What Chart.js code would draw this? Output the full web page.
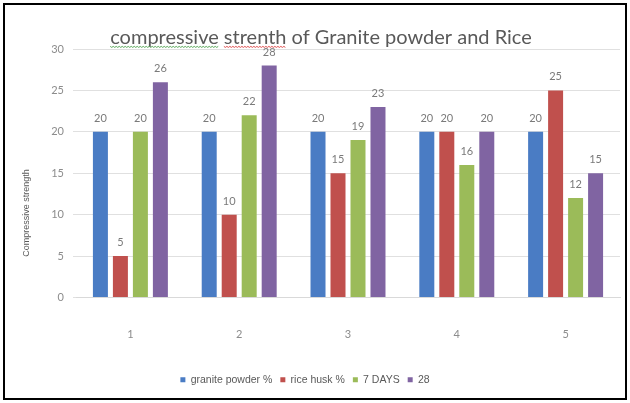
<!DOCTYPE html>
<html>
<head>
<meta charset="utf-8">
<script src="https://cdn.jsdelivr.net/npm/chart.js@4/dist/chart.umd.min.js"></script>
<style>
  html, body { margin: 0; padding: 0; background: #ffffff; }
  canvas { display: block; }
</style>
</head>
<body>
<canvas id="c" width="630" height="403"></canvas>
<script>
// Categories along the x axis
const categories = ['1', '2', '3', '4', '5'];

// Series values
const granitePowder = [20, 20, 20, 20, 20];
const riceHusk = [5, 10, 15, 20, 25];
const sevenDays = [20, 22, 19, 16, 12];
const days28 = [26, 28, 23, 20, 15];

// Series names and y-axis ticks
const seriesNames = ['granite powder %', 'rice husk %', '7 DAYS', '28'];
const yTicks = [0, 5, 10, 15, 20, 25, 30];

const titleText = 'compressive strenth of Granite powder and Rice';
const yAxisTitle = 'Compressive strength';
const colors = ['#4a7cc4', '#c0504d', '#9bbb59', '#8064a2'];

// White page with a black frame around everything
const framePlugin = {
  id: 'frame',
  beforeDraw(chart) {
    const ctx = chart.ctx;
    ctx.save();
    ctx.fillStyle = '#ffffff';
    ctx.fillRect(0, 0, chart.width, chart.height);
    ctx.strokeStyle = '#000000';
    ctx.lineWidth = 2;
    ctx.strokeRect(4, 4, chart.width - 8, chart.height - 8);
    ctx.restore();
  }
};

// Value written above every bar
const valueLabels = {
  id: 'valueLabels',
  afterDatasetsDraw(chart) {
    const ctx = chart.ctx;
    ctx.save();
    ctx.font = '11px Lato, "Liberation Sans", sans-serif';
    ctx.fillStyle = '#7a7a7a';
    ctx.textAlign = 'center';
    ctx.textBaseline = 'bottom';
    chart.data.datasets.forEach((ds, i) => {
      const meta = chart.getDatasetMeta(i);
      meta.data.forEach((bar, j) => {
        ctx.fillText(String(ds.data[j]), bar.x, bar.y - 8);
      });
    });
    ctx.restore();
  }
};

// Rotated y-axis caption, sitting a little below the middle of the axis
const yCaption = {
  id: 'yCaption',
  afterDraw(chart) {
    const ctx = chart.ctx;
    const a = chart.chartArea;
    ctx.save();
    ctx.translate(27, a.top + (a.bottom - a.top) * 0.66);
    ctx.rotate(-Math.PI / 2);
    ctx.font = '9px "Liberation Sans Narrow", "Liberation Sans", sans-serif';
    ctx.fillStyle = '#595959';
    ctx.textAlign = 'center';
    ctx.textBaseline = 'middle';
    ctx.fillText(yAxisTitle, 0, 0);
    ctx.restore();
  }
};

// Legend shifted a little to the left of the page centre
const legendShift = {
  id: 'legendShift',
  afterLayout(chart) {
    const lg = chart.legend;
    if (!lg || lg._shifted) return;
    const orig = lg.draw;
    lg.draw = function () {
      const ctx = this.ctx;
      ctx.save();
      ctx.translate(-16, 0);
      orig.apply(this, arguments);
      ctx.restore();
    };
    lg._shifted = true;
  }
};

// Wavy proofing underlines under two words of the title
const titleMarks = {
  id: 'titleMarks',
  afterDraw(chart) {
    const tb = chart.titleBlock;
    if (!tb) return;
    const ctx = chart.ctx;
    const font = Chart.helpers.toFont(chart.options.plugins.title.font);
    ctx.save();
    ctx.font = font.string;
    const total = ctx.measureText(titleText).width;
    const cx = (tb.left + tb.right) / 2;
    const x0 = cx - total / 2;
    const baseY = tb.top + tb.options.padding.top + font.lineHeight / 2 + font.size * 0.42;
    function wave(word, color) {
      const idx = titleText.indexOf(word);
      const start = x0 + ctx.measureText(titleText.slice(0, idx)).width;
      const w = ctx.measureText(word).width;
      ctx.strokeStyle = color;
      ctx.lineWidth = 1;
      ctx.beginPath();
      for (let x = 0; x <= w; x += 1.5) {
        const y = baseY + ((Math.round(x / 1.5) % 2) ? 1 : 0);
        if (x === 0) ctx.moveTo(start + x, y); else ctx.lineTo(start + x, y);
      }
      ctx.stroke();
    }
    wave('compressive', '#5aa85a');
    wave('strenth', '#e05050');
    ctx.restore();
  }
};

const datasets = [granitePowder, riceHusk, sevenDays, days28].map((vals, i) => ({
  label: seriesNames[i],
  data: vals,
  backgroundColor: colors[i],
  borderWidth: 0,
  categoryPercentage: 0.735,
  barPercentage: 0.75
}));

new Chart(document.getElementById('c'), {
  type: 'bar',
  data: { labels: categories, datasets },
  plugins: [framePlugin, valueLabels, yCaption, legendShift, titleMarks],
  options: {
    responsive: false,
    animation: false,
    devicePixelRatio: 1,
    layout: { padding: { left: 22, right: 10, top: 27, bottom: 8 } },
    plugins: {
      title: {
        display: true,
        text: titleText,
        color: '#595959',
        font: { family: 'Lato, "Liberation Sans", sans-serif', size: 20, weight: 'normal', lineHeight: 1.1 },
        padding: { top: 0, bottom: 0 }
      },
      legend: {
        position: 'bottom',
        labels: {
          boxWidth: 5,
          boxHeight: 5,
          padding: 8,
          color: '#595959',
          font: { family: '"Liberation Sans Narrow", "Liberation Sans", sans-serif', size: 10.5 }
        }
      },
      tooltip: { enabled: false }
    },
    scales: {
      x: {
        grid: { display: false },
        border: { color: '#d9d9d9' },
        ticks: { color: '#8c8c8c', padding: 22, font: { family: 'Lato, sans-serif', size: 11 } },
        afterFit(s) { s.height = 69; }
      },
      y: {
        min: 0,
        max: 30,
        afterBuildTicks(s) { s.ticks = yTicks.map(v => ({ value: v })); },
        grid: { color: '#e0e0e0', tickLength: 3 },
        border: { display: false },
        ticks: { color: '#8c8c8c', padding: 9, font: { family: 'Lato, sans-serif', size: 11 } },
        afterFit(s) { s.width = 54; }
      }
    }
  }
});
</script>
</body>
</html>
